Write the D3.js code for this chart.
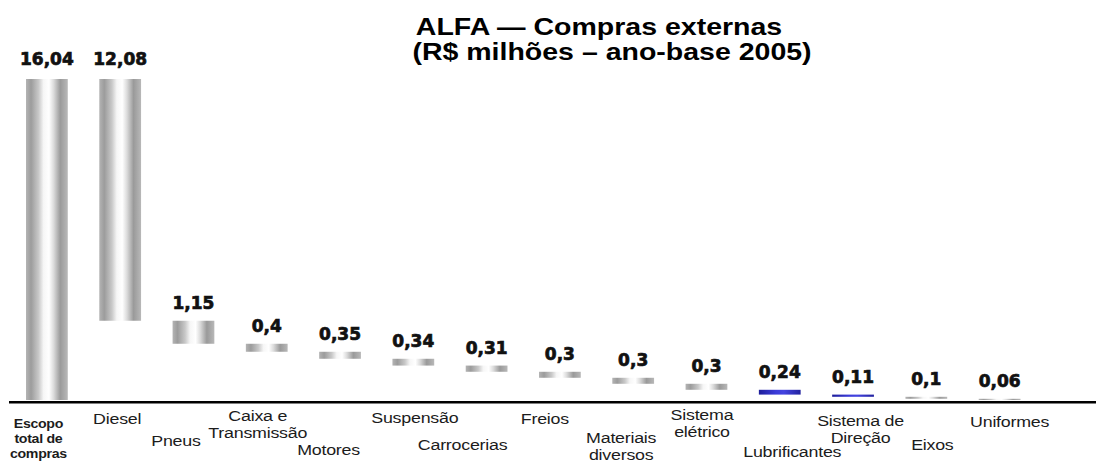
<!DOCTYPE html>
<html><head><meta charset="utf-8">
<script src="https://cdn.jsdelivr.net/npm/d3@7"></script>
<style>body{margin:0;background:#fff;overflow:hidden}</style>
</head><body>
<svg id="chart" width="1096" height="464"></svg>
<script>
// ---- data ----
const categories = ["Escopo\ntotal de\ncompras", "Diesel", "Pneus", "Caixa e\nTransmissão", "Motores",
  "Suspensão", "Carrocerias", "Freios", "Materiais\ndiversos", "Sistema\nelétrico",
  "Lubrificantes", "Sistema de\nDireção", "Eixos", "Uniformes"];
const values = [16.04, 12.08, 1.15, 0.4, 0.35, 0.34, 0.31, 0.3, 0.3, 0.3, 0.24, 0.11, 0.1, 0.06];
const titleLines = ["ALFA — Compras externas", "(R$ milhões – ano-base 2005)"];

// ---- layout / style (not data) ----
const W = 1096, H = 464;
const baseY = 400, topY = 79;
const blueBars = ["Lubrificantes", "Sistema de\nDireção"];
// label offsets from bar centre: [dx, first-line baseline below axis]
const labelLayout = [[-8.5, 27.5], [-3, 24], [-17.5, 46], [-9, 20.75], [-11.5, 55], [1.5, 23], [-24, 50],
  [-15, 24], [-12, 43], [-4.5, 19.75], [12.5, 57], [7.5, 25.75], [6, 50], [10, 27]];

const svg = d3.select("#chart");
const ptBR = d3.formatLocale({decimal: ",", thousands: ".", grouping: [3], currency: ["R$", ""]});
const fmt = ptBR.format("~g");

// waterfall extents
let running = values[0];
const rows = categories.map((c, i) => {
  if (i === 0) return {c, v: values[i], lo: 0, hi: values[i], i};
  const hi = running, lo = running - values[i];
  running = lo;
  return {c, v: values[i], lo, hi, i};
});

const x = d3.scaleBand().domain(categories).range([26, 1020.5]).paddingInner(0.43).paddingOuter(0);
const y = d3.scaleLinear().domain([0, values[0]]).range([baseY, topY]);

// gradients
const defs = svg.append("defs");
const gGray = defs.append("linearGradient").attr("id", "gGray");
[[0, "#b4b4b4"], [0.12, "#9c9c9c"], [0.3, "#c8c8c8"], [0.42, "#f6f6f6"], [0.55, "#ffffff"],
 [0.66, "#dcdcdc"], [0.82, "#9a9a9a"], [1, "#b8b8b8"]]
  .forEach(([o, c]) => gGray.append("stop").attr("offset", o).attr("stop-color", c));
const gBlue = defs.append("linearGradient").attr("id", "gBlue");
[[0, "#1e1e9a"], [0.4, "#3b3bd8"], [0.6, "#4444e0"], [1, "#22229e"]]
  .forEach(([o, c]) => gBlue.append("stop").attr("offset", o).attr("stop-color", c));

// bars
svg.append("g").selectAll("rect").data(rows).join("rect")
  .attr("x", d => x(d.c))
  .attr("width", x.bandwidth())
  .attr("y", d => y(d.hi))
  .attr("height", d => Math.max(1, y(d.lo) - y(d.hi)))
  .attr("fill", d => blueBars.includes(d.c) ? "url(#gBlue)" : "url(#gGray)");

// value labels
svg.append("g").selectAll("text").data(rows).join("text")
  .attr("x", d => x(d.c) + x.bandwidth() / 2)
  .attr("y", d => y(d.hi) - (d.i < 2 ? 14 : 12))
  .attr("text-anchor", "middle")
  .attr("font-family", "DejaVu Sans, sans-serif")
  .attr("font-weight", "bold")
  .attr("font-size", 17)
  .attr("fill", "#111")
  .attr("stroke", "#111")
  .attr("stroke-width", 0.7)
  .text(d => fmt(d.v));

// axis line
const axis = d3.axisBottom(x).tickSize(0).tickFormat("");
const axG = svg.append("g").attr("transform", `translate(0,${baseY + 2.2})`).call(axis);
axG.select(".domain").attr("d", `M9,0H${W}`).attr("stroke", "#000").attr("stroke-width", 2.6);

// category labels
const lab = svg.append("g");
rows.forEach((d, i) => {
  const [dx, dy] = labelLayout[i];
  const lines = d.c.split("\n");
  const first = i === 0;
  const cx = x(d.c) + x.bandwidth() / 2 + dx;
  const t = lab.append("text")
    .attr("transform", `translate(${cx},${baseY + dy}) scale(${first ? 1.05 : 1.15},1)`)
    .attr("text-anchor", "middle")
    .attr("font-family", "Liberation Sans, Arial, sans-serif")
    .attr("font-size", first ? 13.5 : 15.5)
    .attr("font-weight", first ? "bold" : "normal")
    .attr("fill", "#1c1c1c")
    .attr("letter-spacing", first ? -0.3 : -0.2);
  lines.forEach((ln, k) => {
    t.append("tspan").attr("x", 0).attr("y", k * (first ? 15.2 : 17.5)).text(ln);
  });
});

// title
const tt = svg.append("g");
[[599, 35], [612, 60]].forEach(([tx, ty], k) => {
  tt.append("text")
    .attr("transform", `translate(${tx},${ty}) scale(1.24,1)`)
    .attr("text-anchor", "middle")
    .attr("font-family", "Liberation Sans, Arial, sans-serif")
    .attr("font-weight", "bold")
    .attr("font-size", 23)
    .attr("fill", "#000")
    .text(titleLines[k]);
});
</script>
</body></html>
